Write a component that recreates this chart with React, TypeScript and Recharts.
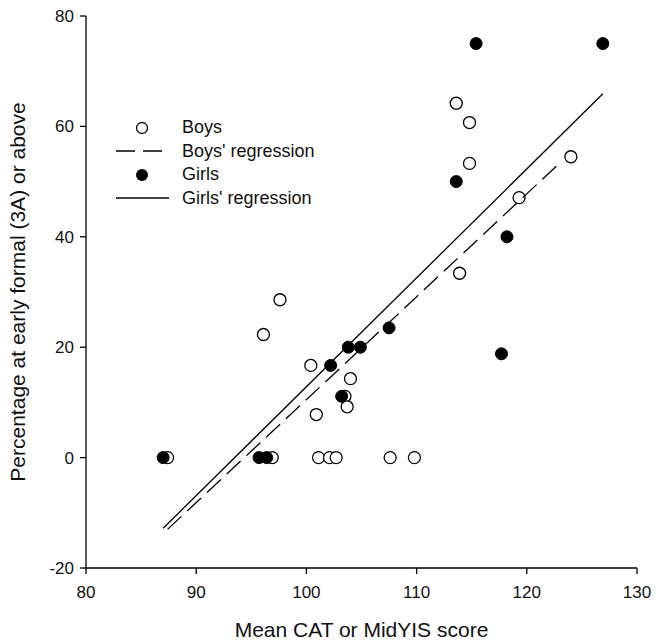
import {
  Label,
  Legend,
  Scatter,
  ScatterChart,
  XAxis,
  YAxis,
} from "recharts";

const boys = [
  { x: 87.4, y: 0 },
  { x: 96.1, y: 22.3 },
  { x: 97.6, y: 28.6 },
  { x: 100.4, y: 16.7 },
  { x: 100.9, y: 7.8 },
  { x: 101.1, y: 0 },
  { x: 102.1, y: 0 },
  { x: 102.7, y: 0 },
  { x: 103.5, y: 11.1 },
  { x: 103.7, y: 9.2 },
  { x: 104.0, y: 14.3 },
  { x: 96.9, y: 0 },
  { x: 107.6, y: 0 },
  { x: 109.8, y: 0 },
  { x: 113.6, y: 64.2 },
  { x: 114.8, y: 60.7 },
  { x: 114.8, y: 53.3 },
  { x: 113.9, y: 33.4 },
  { x: 119.3, y: 47.1 },
  { x: 124.0, y: 54.5 },
];

const girls = [
  { x: 87.0, y: 0 },
  { x: 95.7, y: 0 },
  { x: 96.4, y: 0 },
  { x: 102.2, y: 16.7 },
  { x: 103.2, y: 11.1 },
  { x: 103.8, y: 20 },
  { x: 104.9, y: 20 },
  { x: 107.5, y: 23.5 },
  { x: 113.6, y: 50 },
  { x: 115.4, y: 75 },
  { x: 117.7, y: 18.8 },
  { x: 118.2, y: 40 },
  { x: 126.9, y: 75 },
];

const boysRegression = [
  { x: 87.4, y: -13.0 },
  { x: 122.9, y: 53.2 },
];

const girlsRegression = [
  { x: 87.0, y: -12.8 },
  { x: 126.9, y: 65.9 },
];

const xTicks = [80, 90, 100, 110, 120, 130];
const yTicks = [-20, 0, 20, 40, 60, 80];

const FONT = "'Liberation Sans', Arial, sans-serif";
const DASH = "19 8";

const openDot = (p: any) => (
  <circle cx={p.cx} cy={p.cy} r={6} fill="#fff" stroke="#000" strokeWidth={1.3} />
);
const filledDot = (p: any) => (
  <circle cx={p.cx} cy={p.cy} r={6} fill="#000" stroke="#000" strokeWidth={1} />
);
const noDot = () => <g />;

const legendIcon = (name: string) => {
  if (name === "Boys")
    return <circle cx={26} cy={11} r={5.5} fill="#fff" stroke="#000" strokeWidth={1.3} />;
  if (name === "Girls") return <circle cx={26} cy={11} r={6} fill="#000" />;
  if (name === "Boys' regression")
    return <line x1={0} y1={11} x2={47} y2={11} stroke="#000" strokeWidth={1.3} strokeDasharray={DASH} />;
  return <line x1={0} y1={11} x2={53} y2={11} stroke="#000" strokeWidth={1.3} />;
};

const LegendBox = (props: any) => (
  <div style={{ fontFamily: FONT, fontSize: 18, color: "#111" }}>
    {(props.payload || []).map((entry: any) => (
      <div key={entry.value} style={{ display: "flex", alignItems: "center", height: 23.5 }}>
        <svg width={66} height={22}>
          {legendIcon(entry.value)}
        </svg>
        <span>{entry.value}</span>
      </div>
    ))}
  </div>
);

export default function App() {
  return (
    <div style={{ position: "absolute", left: 0, top: 0, width: 656, height: 643 }}>
      <ScatterChart
        width={656}
        height={643}
        margin={{ top: 16, right: 19, bottom: 0, left: 0 }}
        style={{ fontFamily: FONT }}
      >
        <XAxis
          type="number"
          dataKey="x"
          domain={[80, 130]}
          ticks={xTicks}
          height={75}
          tickSize={6}
          tickMargin={12}
          stroke="#000"
          strokeWidth={1.3}
          tick={{ fill: "#111", fontSize: 17 }}
        >
          <Label
            value="Mean CAT or MidYIS score"
            position="insideBottom"
            offset={6}
            fill="#111"
            fontSize={21}
          />
        </XAxis>
        <YAxis
          type="number"
          dataKey="y"
          domain={[-20, 80]}
          ticks={yTicks}
          width={86}
          tickSize={6}
          tickMargin={6}
          stroke="#000"
          strokeWidth={1.3}
          tick={{ fill: "#111", fontSize: 17 }}
        >
          <Label
            value="Percentage at early formal (3A) or above"
            angle={-90}
            position="insideLeft"
            offset={18}
            fill="#111"
            fontSize={21}
            style={{ textAnchor: "middle" }}
          />
        </YAxis>
        <Legend
          layout="vertical"
          align="center"
          verticalAlign="middle"
          content={<LegendBox />}
          wrapperStyle={{ position: "absolute", left: 116, top: 116, width: 260, bottom: "auto" }}
        />
        <Scatter name="Boys" data={boys} shape={openDot} isAnimationActive={false} />
        <Scatter
          name="Boys' regression"
          data={boysRegression}
          line={{ stroke: "#000", strokeWidth: 1.3, strokeDasharray: DASH }}
          shape={noDot}
          isAnimationActive={false}
        />
        <Scatter name="Girls" data={girls} shape={filledDot} isAnimationActive={false} />
        <Scatter
          name="Girls' regression"
          data={girlsRegression}
          line={{ stroke: "#000", strokeWidth: 1.3 }}
          shape={noDot}
          isAnimationActive={false}
        />
      </ScatterChart>
    </div>
  );
}
